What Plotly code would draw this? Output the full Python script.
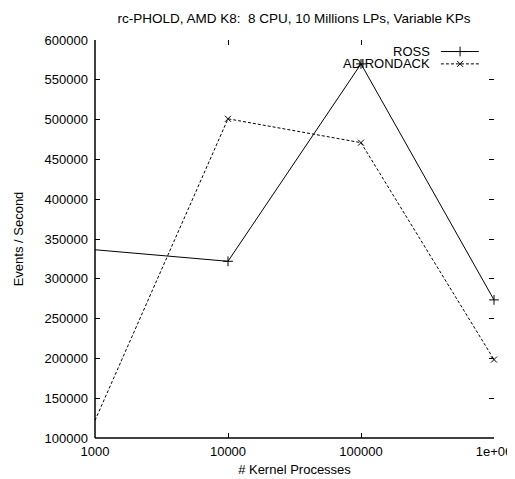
import plotly.graph_objects as go

kernel_processes = [1000, 10000, 100000, 1000000]
ross = [336500, 322000, 570000, 273500]
adirondack = [122000, 501000, 471000, 198500]
x_tick_vals = [1000, 10000, 100000, 1000000]
x_tick_text = ["1000", "10000", "100000", "1e+06"]
y_tick_vals = [100000, 150000, 200000, 250000, 300000, 350000, 400000, 450000, 500000, 550000, 600000]

FONT = "Liberation Sans, Arial, sans-serif"

fig = go.Figure()
fig.add_trace(go.Scatter(
    x=kernel_processes, y=ross, mode="lines+markers", name="ROSS",
    line=dict(color="black", width=1),
    marker=dict(symbol="cross-thin", size=7, line=dict(color="black", width=1)),
    showlegend=False, cliponaxis=False))
fig.add_trace(go.Scatter(
    x=kernel_processes, y=adirondack, mode="lines+markers", name="ADIRONDACK",
    line=dict(color="black", width=1, dash="3px,2px"),
    marker=dict(symbol="x-thin", size=6, line=dict(color="black", width=1)),
    showlegend=False, cliponaxis=False))

# gnuplot-style key: text right-aligned, then line sample with point
leg_y = [0.971, 0.940]
fig.add_trace(go.Scatter(x=[0.915], y=[leg_y[0]], xaxis="x3", yaxis="y3", mode="markers",
                         marker=dict(symbol="cross-thin", size=7, line=dict(color="black", width=1)),
                         showlegend=False, hoverinfo="skip", cliponaxis=False))
fig.add_trace(go.Scatter(x=[0.915], y=[leg_y[1]], xaxis="x3", yaxis="y3", mode="markers",
                         marker=dict(symbol="x-thin", size=6, line=dict(color="black", width=1)),
                         showlegend=False, hoverinfo="skip", cliponaxis=False))
fig.add_shape(type="line", xref="paper", yref="paper", x0=0.867, x1=0.962, y0=leg_y[0], y1=leg_y[0],
              line=dict(color="black", width=1))
fig.add_shape(type="line", xref="paper", yref="paper", x0=0.867, x1=0.962, y0=leg_y[1], y1=leg_y[1],
              line=dict(color="black", width=1, dash="3px,2px"))
for name, yy in zip(["ROSS", "ADIRONDACK"], leg_y):
    fig.add_annotation(x=0.845, y=yy, xref="paper", yref="paper", text=name, showarrow=False,
                       xanchor="right", yanchor="middle", font=dict(size=13, color="black", family=FONT))

# border only on left and bottom (ticks mirrored on top/right)
fig.add_shape(type="line", xref="paper", yref="paper", x0=0, x1=0, y0=0, y1=1,
              line=dict(color="black", width=1.5))
fig.add_shape(type="line", xref="paper", yref="paper", x0=0, x1=1, y0=0, y1=0,
              line=dict(color="black", width=1.5))

axis_common = dict(ticks="inside", ticklen=5, tickcolor="black", tickwidth=1, automargin=False,
                   showline=False, mirror="ticks",
                   showgrid=False, zeroline=False, tickfont=dict(size=13, color="black", family=FONT))

# page body has an 8px margin: shrink the figure and shift the margins accordingly
W, H = 507, 471
fig.update_layout(
    template="none",
    width=W, height=H,
    margin=dict(l=87, r=21, t=32, b=41),
    paper_bgcolor="white", plot_bgcolor="white",
    font=dict(family=FONT, color="black", size=13),
    title=dict(text="rc-PHOLD, AMD K8:  8 CPU, 10 Millions LPs, Variable KPs",
               x=(294 - 8) / W, xanchor="center", y=1 - (18 - 8) / H, yanchor="middle",
               font=dict(size=13.5, color="black", family=FONT)),
    xaxis=dict(type="log", range=[3, 6], tickvals=x_tick_vals, ticktext=x_tick_text,
               ticklabelstandoff=4,
               title=dict(text="# Kernel Processes", font=dict(size=13, color="black", family=FONT), standoff=6),
               **axis_common),
    yaxis=dict(range=[100000, 600000], tickvals=y_tick_vals, tickformat="d",
               ticklabelstandoff=6,
               title=dict(text="Events / Second", font=dict(size=13, color="black", family=FONT), standoff=18),
               **axis_common),
    xaxis3=dict(range=[0, 1], overlaying="x", visible=False),
    yaxis3=dict(range=[0, 1], overlaying="y", visible=False),
)

fig.write_html("out.html")
